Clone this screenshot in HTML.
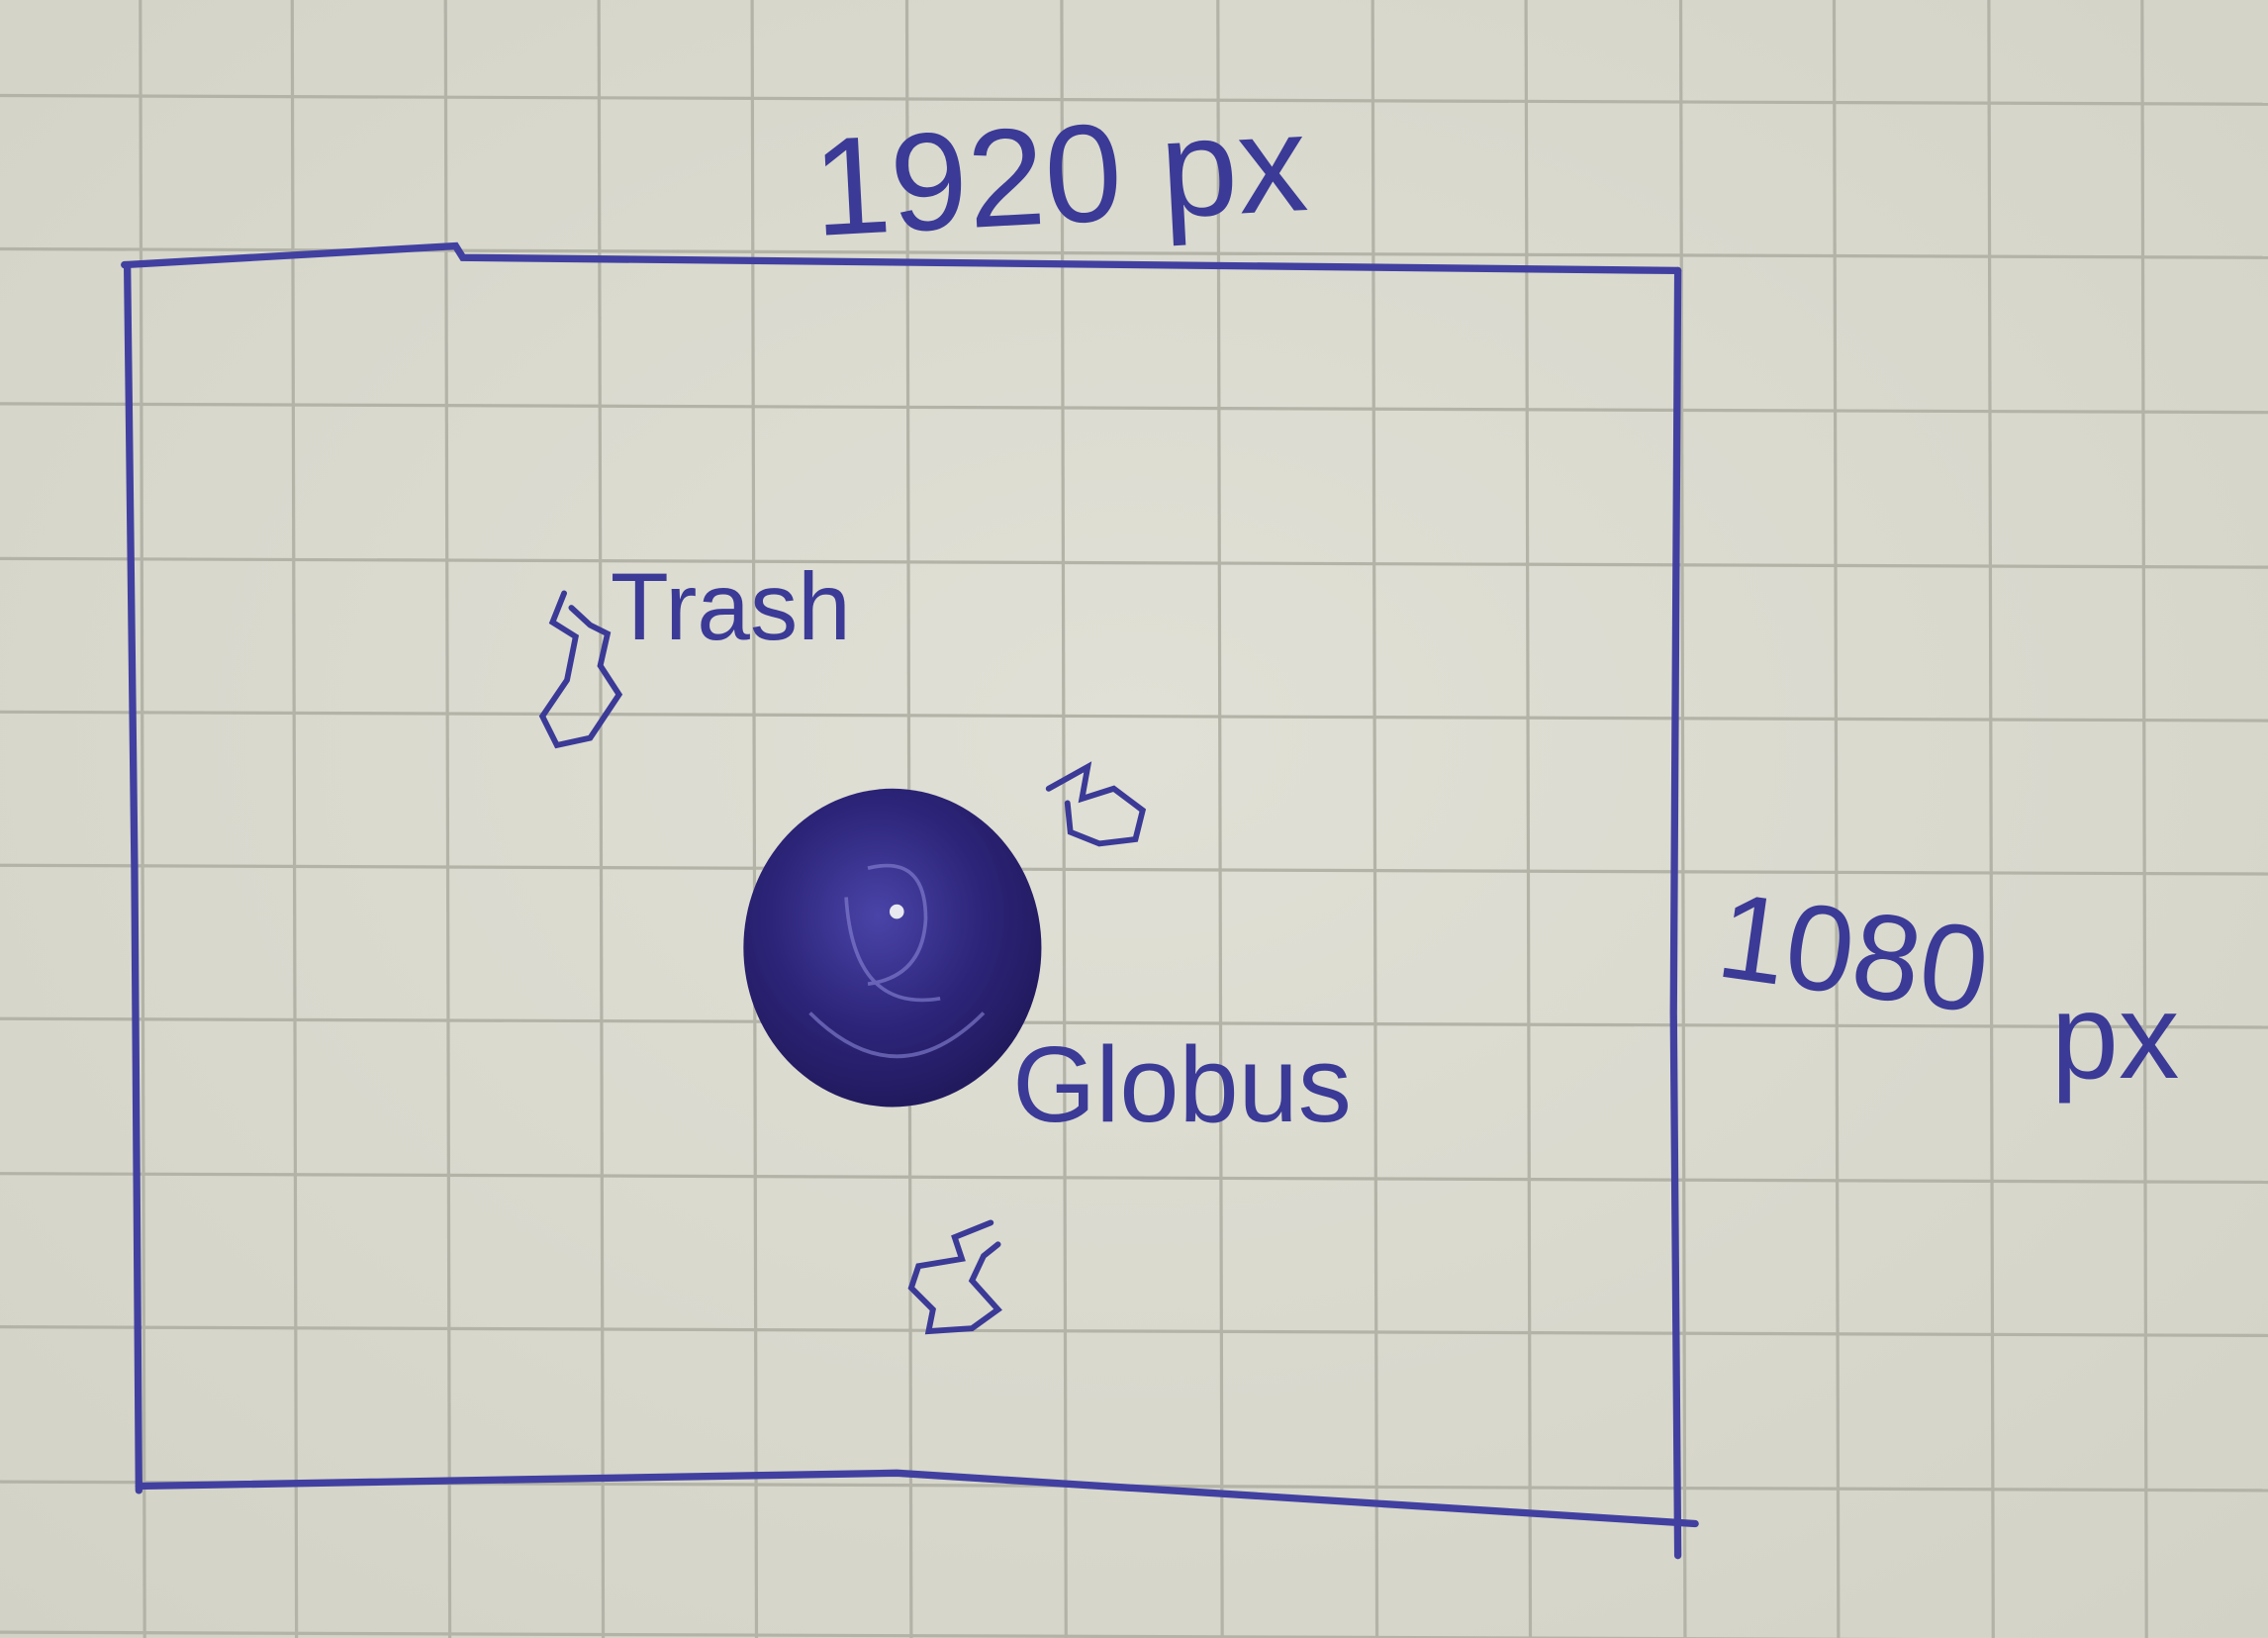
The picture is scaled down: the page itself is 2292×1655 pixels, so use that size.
<!DOCTYPE html>
<html><head><meta charset="utf-8"><style>
html,body{margin:0;padding:0;width:2292px;height:1655px;overflow:hidden;background:#dcdcd2;}
svg{display:block}
text{font-family:"Liberation Sans",sans-serif;fill:#3b3a96;}
</style></head><body>
<svg width="2292" height="1655" viewBox="0 0 1568 1132" preserveAspectRatio="none">
<defs><radialGradient id="paper" cx="50%" cy="45%" r="75%"><stop offset="0" stop-color="#e0e0d6"/><stop offset="1" stop-color="#d2d2c6"/></radialGradient>
<radialGradient id="globe" cx="45%" cy="40%" r="60%"><stop offset="0" stop-color="#4a44a8"/><stop offset="0.6" stop-color="#2c2478"/><stop offset="1" stop-color="#221a5e"/></radialGradient></defs>
<rect x="0" y="0" width="1568" height="1132" fill="url(#paper)"/>
<g stroke="#b3b3a8" stroke-width="2.2">
<line x1="97" y1="0" x2="100" y2="1132"/><line x1="202" y1="0" x2="205" y2="1132"/><line x1="308" y1="0" x2="311" y2="1132"/><line x1="414" y1="0" x2="417" y2="1132"/><line x1="520" y1="0" x2="523" y2="1132"/><line x1="627" y1="0" x2="630" y2="1132"/><line x1="734" y1="0" x2="737" y2="1132"/><line x1="842" y1="0" x2="845" y2="1132"/><line x1="949" y1="0" x2="952" y2="1132"/><line x1="1055" y1="0" x2="1058" y2="1132"/><line x1="1162" y1="0" x2="1165" y2="1132"/><line x1="1268" y1="0" x2="1271" y2="1132"/><line x1="1375" y1="0" x2="1378" y2="1132"/><line x1="1481" y1="0" x2="1484" y2="1132"/>
<line x1="0" y1="66" x2="1568" y2="72"/><line x1="0" y1="172" x2="1568" y2="178"/><line x1="0" y1="279" x2="1568" y2="285"/><line x1="0" y1="386" x2="1568" y2="392"/><line x1="0" y1="492" x2="1568" y2="498"/><line x1="0" y1="598" x2="1568" y2="604"/><line x1="0" y1="704" x2="1568" y2="710"/><line x1="0" y1="811" x2="1568" y2="817"/><line x1="0" y1="917" x2="1568" y2="923"/><line x1="0" y1="1024" x2="1568" y2="1030"/><line x1="0" y1="1128" x2="1568" y2="1134"/>
</g>
<g fill="none" stroke="#4140a0" stroke-width="5" stroke-linecap="round">
<path d="M86 183 L315 170 L320 178 L1160 187"/>
<path d="M1160 187 L1157 700 L1160 1075"/>
<path d="M96 1027 L620 1018 L1172 1053"/>
<path d="M88 183 L93 600 L96 1030"/>
</g>
<text x="562" y="153" font-size="96" transform="rotate(-3 750 120)">1920 px</text>
<text x="1188" y="690" font-size="84" transform="rotate(8 1300 660)">1080</text>
<text x="1418" y="745" font-size="84">px</text>
<g fill="none" stroke="#3b3a96" stroke-width="4" stroke-linecap="round">
<path d="M390 410 L382 430 L398 440 L392 470 L375 495 L385 515 L408 510 L428 480 L415 460 L420 438 L408 432 L395 420"/>
</g>
<text x="422" y="442" font-size="66">Trash</text>
<g>
<ellipse cx="617" cy="655" rx="103" ry="110" fill="url(#globe)"/>
<g fill="none" stroke="#8a86d6" stroke-width="2.5" opacity="0.6">
<path d="M600 600 Q640 590 640 635 Q638 675 600 680"/>
<path d="M585 620 Q590 700 650 690"/>
<path d="M560 700 Q620 760 680 700"/>
</g>
<circle cx="620" cy="630" r="5" fill="#e8e8f0"/>
</g>
<text x="700" y="775" font-size="74">Globus</text>
<g fill="none" stroke="#3b3a96" stroke-width="4" stroke-linecap="round">
<path d="M725 545 L752 530 L748 552 L770 545 L790 560 L785 580 L760 583 L740 575 L738 555"/>
</g>
<g fill="none" stroke="#3b3a96" stroke-width="4" stroke-linecap="round">
<path d="M685 845 L660 855 L665 870 L635 875 L630 890 L645 905 L642 920 L672 918 L690 905 L672 885 L680 868 L690 860"/>
</g>
</svg>
</body></html>
